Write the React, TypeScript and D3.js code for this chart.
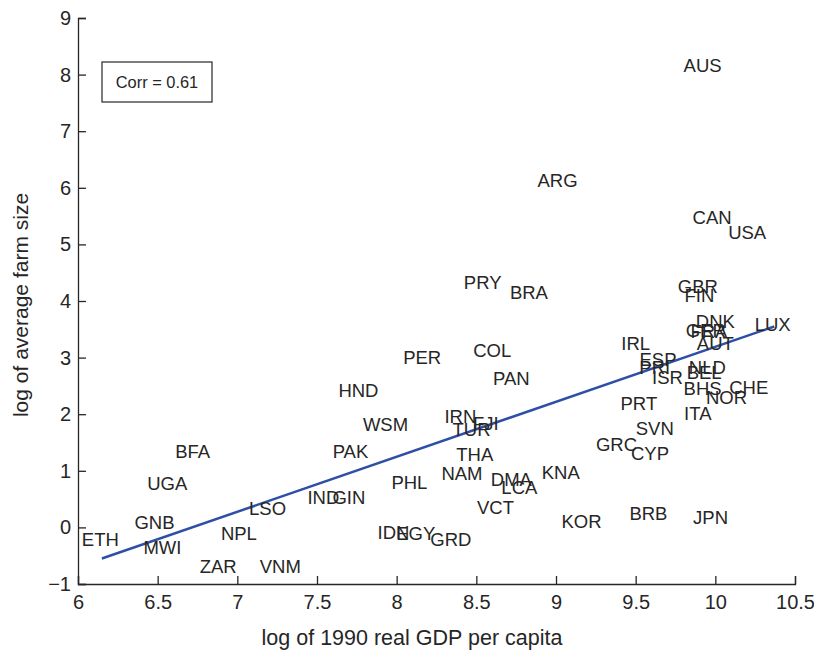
import React, { useEffect, useRef } from "react";
import * as d3 from "d3";

// country codes with log GDP per capita (x) and log farm size (y)
const codes = [
  "AUS", "ARG", "CAN", "USA", "PRY", "BRA", "GBR", "FIN", "DNK", "GER", "FRA", "AUT", "LUX",
  "IRL", "ESP", "PRI", "ISR", "NLD", "BEL", "BHS", "CHE", "NOR", "PRT", "ITA", "SVN", "GRC",
  "CYP", "BRB", "JPN", "KOR", "KNA", "IRN", "FJI", "TUR", "THA", "NAM", "PHL", "DMA", "LCA",
  "VCT", "IDN", "EGY", "GRD", "WSM", "PER", "COL", "PAN", "HND", "PAK", "IND", "GIN", "LSO",
  "NPL", "ZAR", "VNM", "GNB", "MWI", "ETH", "UGA", "BFA",
];
const gdp = [
  9.92, 9.01, 9.98, 10.2, 8.54, 8.83, 9.89, 9.9, 10.0, 9.94, 9.96, 10.0, 10.36,
  9.5, 9.64, 9.62, 9.7, 9.95, 9.93, 9.92, 10.21, 10.07, 9.52, 9.89, 9.62, 9.38,
  9.59, 9.58, 9.97, 9.16, 9.03, 8.4, 8.56, 8.47, 8.49, 8.41, 8.08, 8.72, 8.77,
  8.62, 7.98, 8.12, 8.34, 7.93, 8.16, 8.6, 8.72, 7.76, 7.71, 7.54, 7.7, 7.19,
  7.01, 6.88, 7.27, 6.48, 6.53, 6.14, 6.56, 6.72,
];
const farmSize = [
  8.16, 6.13, 5.48, 5.21, 4.33, 4.15, 4.26, 4.1, 3.64, 3.48, 3.46, 3.26, 3.59,
  3.25, 2.97, 2.83, 2.65, 2.83, 2.74, 2.46, 2.47, 2.3, 2.19, 2.01, 1.75, 1.47,
  1.31, 0.25, 0.18, 0.11, 0.97, 1.96, 1.84, 1.73, 1.29, 0.95, 0.8, 0.85, 0.71,
  0.35, -0.09, -0.11, -0.21, 1.82, 3.0, 3.13, 2.63, 2.42, 1.34, 0.53, 0.53, 0.34,
  -0.11, -0.69, -0.69, 0.09, -0.35, -0.21, 0.78, 1.34,
];

// fitted regression line endpoints
const fitX = [6.15, 10.37];
const fitY = [-0.55, 3.55];

const xTicks = [6, 6.5, 7, 7.5, 8, 8.5, 9, 9.5, 10, 10.5];
const yTicks = [-1, 0, 1, 2, 3, 4, 5, 6, 7, 8, 9];

const corrLabel = "Corr = 0.61";

export default function App() {
  const svgRef = useRef<SVGSVGElement>(null);

  useEffect(() => {
    if (!svgRef.current) return;
    const svg = d3.select(svgRef.current);
    svg.selectAll("*").remove();

    const width = 814;
    const height = 651;
    const font = "'Liberation Sans', Arial, Helvetica, sans-serif";
    const ink = "#262626";

    const x = d3.scaleLinear().domain([6, 10.5]).range([78, 795]);
    const y = d3.scaleLinear().domain([-1, 9]).range([584, 18]);

    svg.attr("width", width).attr("height", height);

    // axes
    const xAxis = svg
      .append("g")
      .attr("transform", `translate(0,${y(-1)})`)
      .call(
        d3.axisBottom(x).tickValues(xTicks).tickSize(-8).tickPadding(11)
          .tickFormat((d) => String(d))
      );
    const yAxis = svg
      .append("g")
      .attr("transform", `translate(${x(6)},0)`)
      .call(
        d3.axisLeft(y).tickValues(yTicks).tickSize(-8).tickPadding(7)
          .tickFormat((d) => (Number(d) < 0 ? "\u2212" + Math.abs(Number(d)) : String(d)))
      );
    [xAxis, yAxis].forEach((a) => {
      a.select(".domain").attr("stroke", ink).attr("stroke-width", 1.3);
      a.selectAll(".tick line").attr("stroke", ink).attr("stroke-width", 1.3);
      a.selectAll(".tick text")
        .attr("font-family", font)
        .attr("font-size", 20)
        .attr("fill", ink);
    });

    // axis titles
    svg
      .append("text")
      .attr("x", 412)
      .attr("y", 637)
      .attr("dy", "0.35em")
      .attr("text-anchor", "middle")
      .attr("font-family", font)
      .attr("font-size", 21.5)
      .attr("fill", ink)
      .text("log of 1990 real GDP per capita");

    svg
      .append("text")
      .attr("transform", `translate(21,305) rotate(-90)`)
      .attr("dy", "0.35em")
      .attr("text-anchor", "middle")
      .attr("font-family", font)
      .attr("font-size", 21)
      .attr("fill", ink)
      .text("log of average farm size");

    // regression line
    svg
      .append("line")
      .attr("x1", x(fitX[0]))
      .attr("y1", y(fitY[0]))
      .attr("x2", x(fitX[1]))
      .attr("y2", y(fitY[1]))
      .attr("stroke", "#2e4fa6")
      .attr("stroke-width", 2.5);

    // country labels
    svg
      .append("g")
      .selectAll("text")
      .data(codes)
      .enter()
      .append("text")
      .attr("x", (d, i) => x(gdp[i]))
      .attr("y", (d, i) => y(farmSize[i]))
      .attr("dy", "0.36em")
      .attr("text-anchor", "middle")
      .attr("font-family", font)
      .attr("font-size", 18.5)
      .attr("fill", ink)
      .text((d) => d);

    // correlation box
    svg
      .append("rect")
      .attr("x", 102)
      .attr("y", 62)
      .attr("width", 110)
      .attr("height", 40)
      .attr("fill", "white")
      .attr("stroke", ink)
      .attr("stroke-width", 1.2);
    svg
      .append("text")
      .attr("x", 157)
      .attr("y", 82)
      .attr("dy", "0.36em")
      .attr("text-anchor", "middle")
      .attr("font-family", font)
      .attr("font-size", 16.4)
      .attr("fill", ink)
      .text(corrLabel);
  }, []);

  return (
    <div style={{ position: "absolute", left: 0, top: 0, background: "white" }}>
      <svg ref={svgRef} style={{ display: "block" }} />
    </div>
  );
}
